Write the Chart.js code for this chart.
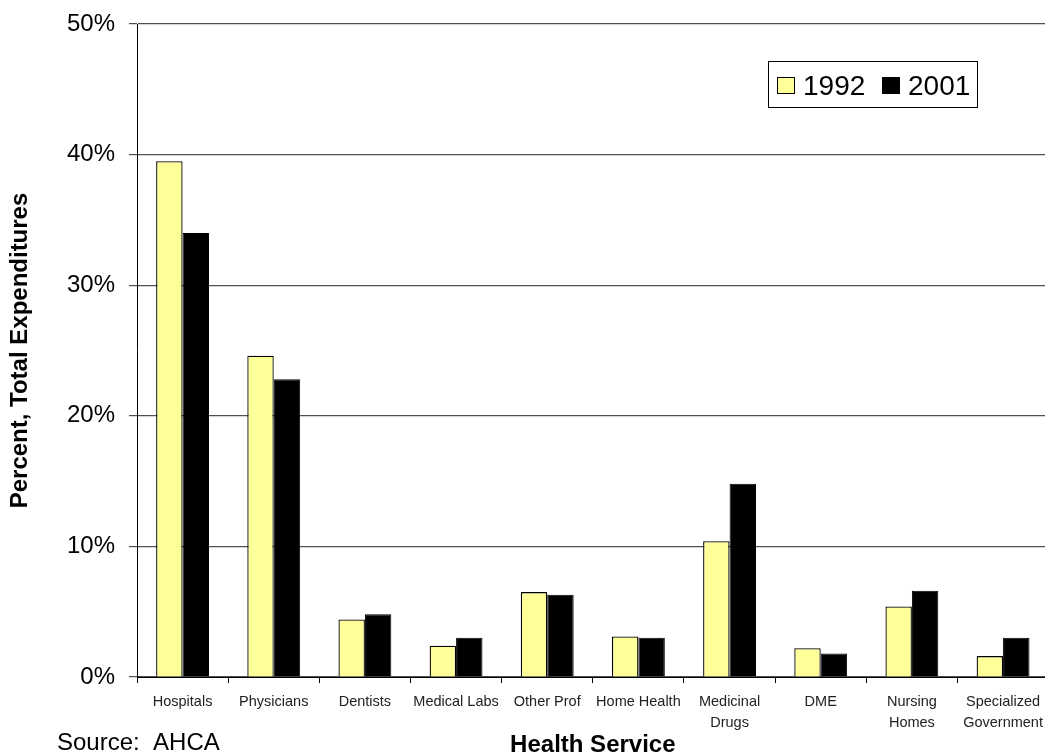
<!DOCTYPE html>
<html>
<head>
<meta charset="utf-8">
<script src="https://cdn.jsdelivr.net/npm/chart.js@4.4.1/dist/chart.umd.min.js"></script>
<style>
    html, body { margin: 0; padding: 0; background: #fff; overflow: hidden; }
    canvas { display: block; }
</style>
</head>
<body>
<canvas id="spend_canvas" width="1052" height="754"></canvas>
<script>
const categories = ['Hospitals', 'Physicians', 'Dentists', 'Medical Labs', 'Other Prof', 'Home Health',
    ['Medicinal', 'Drugs'], 'DME', ['Nursing', 'Homes'], ['Specialized', 'Government']]
const values1992 = [39.5, 24.6, 4.4, 2.4, 6.5, 3.1, 10.4, 2.2, 5.4, 1.6]
const values2001 = [34.0, 22.8, 4.8, 3.0, 6.3, 3.0, 14.8, 1.8, 6.6, 3.0]
const seriesNames = ['1992', '2001']
const source = 'Source:  AHCA'

const sans = '"Liberation Sans", Arial, sans-serif'

// legend sits inside the plot, drawn by hand
const legendBox = {
    id: 'legendBox',
    afterDraw(chart) {
        const ctx = chart.ctx
        ctx.save()
        ctx.fillStyle = '#fff'
        ctx.fillRect(768, 61, 210, 46)
        ctx.strokeStyle = '#000'
        ctx.lineWidth = 1
        ctx.strokeRect(768.5, 61.5, 209, 46)
        let x = 777
        chart.data.datasets.forEach(ds => {
            ctx.fillStyle = ds.backgroundColor
            ctx.fillRect(x, 77, 18, 17)
            ctx.strokeRect(x + 0.5, 77.5, 17, 16)
            ctx.fillStyle = '#000'
            ctx.font = '28px ' + sans
            ctx.textBaseline = 'middle'
            ctx.fillText(ds.label, x + 26, 87)
            x += 105
        })
        ctx.font = '24px ' + sans
        ctx.textBaseline = 'alphabetic'
        ctx.fillText(source, 57, 750)
        ctx.restore()
    }
}

const setup = {
    labels: categories,
    datasets: [{
        label: seriesNames[0],
        data: values1992,
        backgroundColor: '#FFFF99',
        borderColor: '#000',
        borderWidth: 1.3
    }, {
        label: seriesNames[1],
        data: values2001,
        backgroundColor: '#000000',
        borderColor: '#000',
        borderWidth: 1
    }]
}

const chart = new Chart(document.getElementById('spend_canvas'), {
    type: 'bar',
    data: setup,
    options: {
        responsive: false,
        animation: false,
        devicePixelRatio: 1,
        layout: {
            padding: { top: 24, right: 1, bottom: 0, left: 0 }
        },
        datasets: {
            bar: { categoryPercentage: 0.58, barPercentage: 1.0 }
        },
        plugins: {
            legend: { display: false },
            tooltip: { enabled: false }
        },
        scales: {
            x: {
                grid: { drawOnChartArea: false, tickLength: 6, color: '#000' },
                border: { color: '#000', width: 1 },
                ticks: {
                    color: '#222',
                    padding: 9,
                    maxRotation: 0,
                    autoSkip: false,
                    font: { family: sans, size: 14.5, lineHeight: 1.42 }
                },
                title: {
                    display: true,
                    text: 'Health Service',
                    color: '#000',
                    padding: { top: 0, bottom: -3 },
                    font: { family: sans, size: 24, weight: 'bold', lineHeight: 1 }
                },
                afterFit: scale => { scale.height = 77 }
            },
            y: {
                min: 0,
                max: 50,
                ticks: {
                    stepSize: 10,
                    color: '#000',
                    padding: 14,
                    font: { family: sans, size: 24 },
                    callback: v => v + '%'
                },
                grid: { color: '#505050', lineWidth: 1.2, tickLength: 8 },
                border: { color: '#000', width: 1 },
                title: {
                    display: true,
                    text: 'Percent, Total Expenditures',
                    color: '#000',
                    padding: { top: 8, bottom: 0 },
                    font: { family: sans, size: 24, weight: 'bold', lineHeight: 1 }
                },
                afterFit: scale => {
                    scale.width = 137
                    scale.paddingTop = 0
                    scale.paddingBottom = 0
                }
            }
        }
    },
    plugins: [legendBox]
})
</script>
</body>
</html>
